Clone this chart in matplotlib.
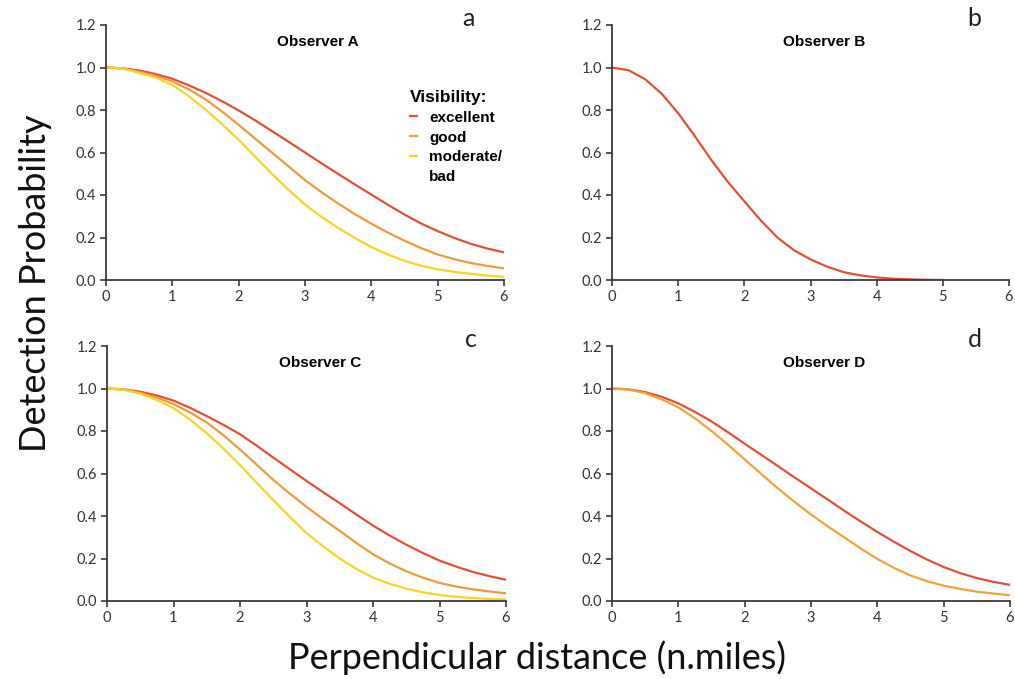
import numpy as np
import matplotlib
matplotlib.use("Agg")
import matplotlib.pyplot as plt
from matplotlib.lines import Line2D

plt.rcParams['font.family'] = ['Lato', 'DejaVu Sans']

# distances (n.miles), read at quarter-mile steps
dist = [0, 0.25, 0.5, 0.75, 1, 1.25, 1.5, 1.75, 2, 2.25, 2.5, 2.75, 3,
        3.25, 3.5, 3.75, 4, 4.25, 4.5, 4.75, 5, 5.25, 5.5, 5.75, 6]

# Observer A
a_exc = [1.000, 0.996, 0.986, 0.969, 0.947, 0.916, 0.881, 0.841, 0.798, 0.751, 0.701, 0.651, 0.600,
         0.549, 0.499, 0.450, 0.402, 0.354, 0.308, 0.266, 0.230, 0.198, 0.170, 0.148, 0.130]
a_good = [1.000, 0.995, 0.980, 0.961, 0.935, 0.897, 0.850, 0.793, 0.730, 0.665, 0.600, 0.535, 0.470,
          0.413, 0.360, 0.310, 0.265, 0.223, 0.185, 0.150, 0.120, 0.098, 0.080, 0.066, 0.055]
a_mod = [1.000, 0.995, 0.975, 0.952, 0.918, 0.865, 0.802, 0.733, 0.660, 0.580, 0.500, 0.425, 0.355,
         0.297, 0.245, 0.198, 0.155, 0.120, 0.090, 0.067, 0.050, 0.038, 0.029, 0.021, 0.015]

# Observer B (single curve, reaches zero near 5 n.miles)
b_dist = dist[:21]
b_all = [1.000, 0.987, 0.945, 0.877, 0.785, 0.678, 0.565, 0.462, 0.370, 0.280, 0.200, 0.140, 0.097,
         0.063, 0.037, 0.022, 0.012, 0.006, 0.003, 0.001, 0.000]

# Observer C
c_exc = [1.000, 0.996, 0.985, 0.967, 0.943, 0.909, 0.870, 0.829, 0.785, 0.731, 0.675, 0.620, 0.565,
         0.512, 0.460, 0.407, 0.355, 0.308, 0.265, 0.226, 0.190, 0.162, 0.137, 0.117, 0.100]
c_good = [1.000, 0.995, 0.980, 0.957, 0.927, 0.887, 0.840, 0.780, 0.713, 0.642, 0.570, 0.505, 0.443,
          0.385, 0.330, 0.273, 0.220, 0.177, 0.140, 0.110, 0.085, 0.068, 0.055, 0.045, 0.036]
c_mod = [1.000, 0.994, 0.975, 0.946, 0.908, 0.853, 0.790, 0.718, 0.640, 0.557, 0.475, 0.396, 0.320,
         0.257, 0.200, 0.151, 0.110, 0.081, 0.058, 0.041, 0.028, 0.020, 0.014, 0.010, 0.008]

# Observer D
d_exc = [1.000, 0.996, 0.983, 0.961, 0.930, 0.890, 0.845, 0.794, 0.740, 0.688, 0.635, 0.582, 0.530,
         0.478, 0.425, 0.374, 0.325, 0.279, 0.235, 0.195, 0.160, 0.131, 0.108, 0.090, 0.076]
d_good = [1.000, 0.995, 0.978, 0.949, 0.911, 0.860, 0.800, 0.735, 0.666, 0.598, 0.530, 0.467, 0.407,
          0.352, 0.300, 0.247, 0.198, 0.156, 0.120, 0.093, 0.072, 0.057, 0.044, 0.035, 0.027]

RED = '#e2503a'
ORANGE = '#ef9a3e'
YELLOW = '#f4d52a'

fig = plt.figure(figsize=(10.15, 6.79), dpi=100)
W, H = 1015, 679


def make_ax(x0, x1, ytop, ybot):
    return fig.add_axes([x0 / W, 1 - ybot / H, (x1 - x0) / W, (ybot - ytop) / H])


ax_a = make_ax(106, 504, 25, 280)
ax_b = make_ax(612, 1009, 25, 280)
ax_c = make_ax(107, 506, 346, 601)
ax_d = make_ax(612, 1010, 346, 601)

lw = 1.6
l1, = ax_a.plot(dist, a_exc, color=RED, lw=lw)
l2, = ax_a.plot(dist, a_good, color=ORANGE, lw=lw)
l3, = ax_a.plot(dist, a_mod, color=YELLOW, lw=lw)

ax_b.plot(b_dist, b_all, color=RED, lw=lw)

ax_c.plot(dist, c_exc, color=RED, lw=lw)
ax_c.plot(dist, c_good, color=ORANGE, lw=lw)
ax_c.plot(dist, c_mod, color=YELLOW, lw=lw)

ax_d.plot(dist, d_exc, color=RED, lw=lw)
ax_d.plot(dist, d_good, color='#f0a43a', lw=lw)

titles = ['Observer A', 'Observer B', 'Observer C', 'Observer D']
letters = ['a', 'b', 'c', 'd']
for ax, t, l in zip([ax_a, ax_b, ax_c, ax_d], titles, letters):
    ax.set_xlim(0, 6)
    ax.set_ylim(0, 1.2)
    ax.set_xticks(range(0, 7))
    ax.set_yticks([0, 0.2, 0.4, 0.6, 0.8, 1.0, 1.2])
    ax.set_yticklabels(['%.1f' % v for v in [0, 0.2, 0.4, 0.6, 0.8, 1.0, 1.2]])
    for s in ['top', 'right']:
        ax.spines[s].set_visible(False)
    for s in ['left', 'bottom']:
        ax.spines[s].set_color('#3a3a3a')
        ax.spines[s].set_linewidth(1.3)
    ax.tick_params(direction='out', length=4, width=1.2, color='#3a3a3a',
                   labelsize=10.5, labelcolor='#333333', pad=3)
    ax.text(3.2, 1.12, t, ha='center', va='center', fontsize=11, fontweight='bold',
            family=['Liberation Sans Narrow', 'Liberation Sans', 'DejaVu Sans'])
    ax.text(5.47, 1.23, l, ha='center', va='center', fontsize=18, clip_on=False,
            color='#222222')

blank = Line2D([], [], color='none')
leg = ax_a.legend([l1, l2, l3, blank], ['excellent', 'good', 'moderate/', 'bad'],
                  loc='upper left', bbox_to_anchor=(0.745, 0.775), frameon=False,
                  title='Visibility:', handlelength=0.45, handletextpad=0.8,
                  labelspacing=0.38, borderpad=0,
                  prop={'family': ['Liberation Sans', 'DejaVu Sans'], 'weight': 'bold', 'size': 11})
leg.get_title().set_fontproperties({'family': ['Liberation Sans', 'DejaVu Sans'],
                                    'weight': 'bold', 'size': 12.5})
leg._legend_box.align = 'left'

fig.text(0.035, 0.583, 'Detection Probability', rotation=90, ha='center', va='center',
         fontsize=26, color='#111111')
fig.text(0.529, 0.032, 'Perpendicular distance (n.miles)', ha='center', va='center',
         fontsize=26, color='#111111')

fig.savefig('out.png', dpi=100)
